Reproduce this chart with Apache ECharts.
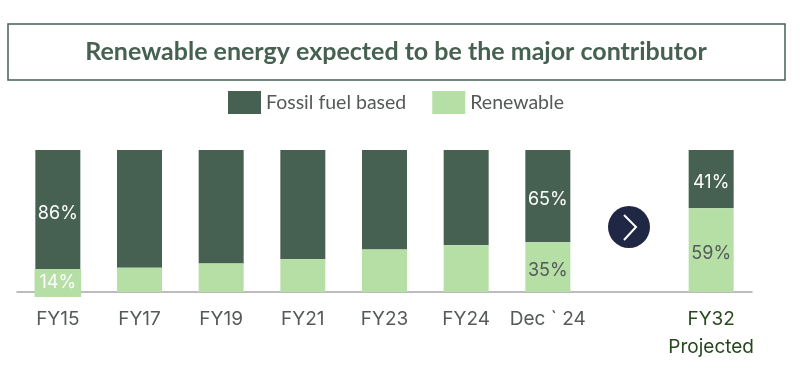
<!DOCTYPE html>
<html><head><meta charset="utf-8">
<style>html,body{margin:0;padding:0;background:#fff}#c{width:800px;height:368px}</style>
<script src="https://cdn.jsdelivr.net/npm/echarts@6/dist/echarts.min.js"></script>
</head><body><div id="c"></div>
<script>
const categories = ['FY15','FY17','FY19','FY21','FY23','FY24','Dec ` 24','','FY32\nProjected'];
const renewable = [14,17,20,23,30,33,35,null,59];
const fossil = [86,83,80,77,70,67,65,null,41];
const labelledRenewable = [true,false,false,false,false,false,true,false,true];
const labelledFossil = [true,false,false,false,false,false,true,false,true];
const title = 'Renewable energy expected to be the major contributor';
const DARK='#466151', LIGHT='#B6DFA6', FONT='Lato, "Open Sans", sans-serif', NUMFONT='Inter, Roboto, sans-serif';
const chart = echarts.init(document.getElementById('c'), null, {renderer:'canvas'});
function renewableItem(v,i){
  const label = {show:labelledRenewable[i], formatter:'{c}%', color:'#55595a', fontSize:18, fontFamily:NUMFONT, position:'inside', offset:[0,3]};
  if(i===0){ Object.assign(label,{color:'#fff', backgroundColor:LIGHT, padding:[7,5,3,5], offset:[0,1]}); }
  return {value:v, label};
}
function fossilItem(v,i){
  return {value:v, label:{show:labelledFossil[i], formatter:'{c}%', color:'#fff', fontSize:18, fontFamily:NUMFONT, position:'inside', offset:[0,3]}};
}
chart.setOption({
  animation:false,
  backgroundColor:'#fff',
  legend:{
    top:86, left:223, itemWidth:33, itemHeight:23, itemGap:26, icon:'rect',
    data:['Fossil fuel based','Renewable'],
    textStyle:{color:'#55595a', fontSize:19.5, fontFamily:FONT}
  },
  grid:{left:17, right:48, top:150, height:142},
  xAxis:{type:'category', data:categories,
    axisTick:{show:false},
    axisLine:{lineStyle:{color:'#a6a6a6',width:1.5}},
    axisLabel:{interval:0, margin:13, fontSize:19, lineHeight:28, fontFamily:NUMFONT,
      color:(v,i)=> i===8 ? '#27481f' : '#55595a'}
  },
  yAxis:{type:'value', min:0, max:100, show:false},
  series:[
    {name:'Renewable', type:'bar', stack:'s', barWidth:45, z:3, itemStyle:{color:LIGHT}, data:renewable.map(renewableItem)},
    {name:'Fossil fuel based', type:'bar', stack:'s', barWidth:45, itemStyle:{color:DARK}, data:fossil.map(fossilItem)}
  ],
  graphic:[
    {type:'rect', shape:{x:8,y:24,width:777,height:56}, style:{fill:'none',stroke:DARK,lineWidth:1.5}},
    {type:'text', x:396, y:52, style:{text:title, fill:DARK, font:'bold 25px '+FONT, textAlign:'center', textVerticalAlign:'middle'}},
    {type:'circle', shape:{cx:629,cy:227,r:21}, style:{fill:'#202745'}},
    {type:'polyline', shape:{points:[[624,215],[636,227],[624,240]]}, style:{fill:'none',stroke:'#fff',lineWidth:2}}
  ]
});
</script></body></html>
